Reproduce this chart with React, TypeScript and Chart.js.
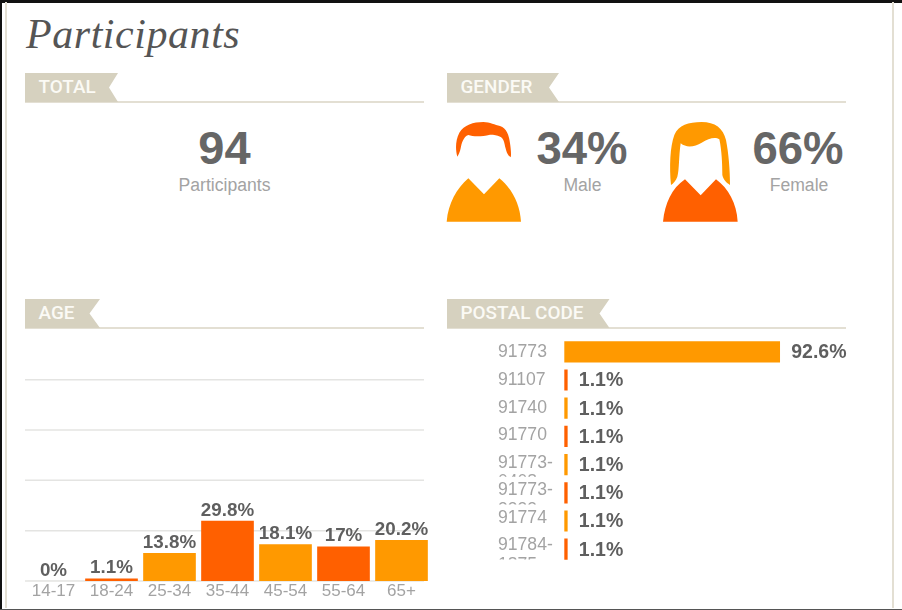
import React, { useEffect, useRef } from "react";
import { Chart, registerables } from "chart.js";

Chart.register(...registerables);

const ageCategories = ["14-17", "18-24", "25-34", "35-44", "45-54", "55-64", "65+"];
const ageValues = [0, 1.1, 13.8, 29.8, 18.1, 17, 20.2];
const ageGrid = [0, 25, 50, 75, 100];
const postalCodes = ["91773", "91107", "91740", "91770", "91773-0408", "91773-3333", "91774", "91784-1875"];
const postalValues = [92.6, 1.1, 1.1, 1.1, 1.1, 1.1, 1.1, 1.1];
const ageColors = ["#e4e4e2", "#ff6000", "#ff9900", "#ff6000", "#ff9900", "#ff6000", "#ff9900"];
const postalColors = ["#ff9900", "#ff6000", "#ff9900", "#ff6000", "#ff9900", "#ff6000", "#ff9900", "#ff6000"];

const SANS = '"Liberation Sans", Arial, sans-serif';
const LABEL = "#5f5f5f";
const MUTED = "#a3a3a3";

const agePlugin = {
  id: "agePlugin",
  beforeDatasetsDraw(chart: any) {
    const { ctx } = chart;
    const y = chart.scales.y;
    ctx.save();
    ctx.strokeStyle = "#e4e4e2";
    ctx.lineWidth = 1.5;
    ageGrid.forEach((v) => {
      const py = y.getPixelForValue(v);
      ctx.beginPath();
      ctx.moveTo(25, py);
      ctx.lineTo(424, py);
      ctx.stroke();
    });
    ctx.restore();
  },
  afterDatasetsDraw(chart: any) {
    const { ctx } = chart;
    const meta = chart.getDatasetMeta(0);
    ctx.save();
    ctx.font = `bold 18.8px ${SANS}`;
    ctx.fillStyle = LABEL;
    ctx.textAlign = "center";
    ctx.textBaseline = "middle";
    meta.data.forEach((bar: any, i: number) => {
      ctx.fillText(`${ageValues[i]}%`, bar.x, bar.y - 10.5);
    });
    ctx.restore();
  },
};

const postalPlugin = {
  id: "postalPlugin",
  afterDatasetsDraw(chart: any) {
    const { ctx } = chart;
    const meta = chart.getDatasetMeta(0);
    const yScale = chart.scales.y;
    const base = yScale.getPixelForTick(0);
    ctx.save();
    ctx.textBaseline = "middle";
    ctx.textAlign = "left";
    meta.data.forEach((bar: any, i: number) => {
      ctx.font = `bold 19.5px ${SANS}`;
      ctx.fillStyle = LABEL;
      ctx.fillText(`${postalValues[i]}%`, bar.x + 11.5, bar.y + 1);

      const rowY = base + (yScale.getPixelForTick(i) - base) * 0.978 + 0.7;
      const parts = postalCodes[i].split("-");
      ctx.font = `17.6px ${SANS}`;
      ctx.fillStyle = MUTED;
      if (parts.length === 1) {
        ctx.fillText(parts[0], 58, rowY);
      } else {
        ctx.fillText(parts[0] + "-", 58, rowY);
        ctx.save();
        ctx.beginPath();
        ctx.rect(50, rowY, 80, 14);
        ctx.clip();
        ctx.fillText(parts[1], 58, rowY + 19.5);
        ctx.restore();
      }
    });
    ctx.restore();
  },
};

const Tab = ({ x, y, w, notch, line, text }: { x: number; y: number; w: number; notch: number; line: number; text: string }) => (
  <>
    <div style={{ position: "absolute", left: x, top: y + 28, width: line - x, height: 1.5, background: "#e3dfd3" }} />
    <svg style={{ position: "absolute", left: x, top: y }} width={w} height={29}>
      <path d={`M0 0H${w}L${notch} 14.5L${w} 29H0Z`} fill="#d6d1bf" />
    </svg>
    <div
      style={{
        position: "absolute",
        left: x + 13.5,
        top: y,
        height: 27,
        color: "#fbfaf5",
        font: `500 18.9px/27px Roboto, ${SANS}`,
        whiteSpace: "nowrap",
      }}
    >
      {text}
    </div>
  </>
);

const Text = ({ cx, cy, size, bold, color, text }: { cx: number; cy: number; size: number; bold?: boolean; color: string; text: string }) => (
  <div
    style={{
      position: "absolute",
      left: cx - 100,
      width: 200,
      top: cy - 40,
      height: 80,
      textAlign: "center",
      font: `${bold ? "bold " : ""}${size}px/80px ${SANS}`,
      color,
    }}
  >
    {text}
  </div>
);

export default function App() {
  const ageRef = useRef<HTMLCanvasElement>(null);
  const postalRef = useRef<HTMLCanvasElement>(null);

  useEffect(() => {
    const age = new Chart(ageRef.current!, {
      type: "bar",
      data: {
        labels: ageCategories,
        datasets: [{ data: ageValues, backgroundColor: ageColors, barThickness: 52 }],
      },
      options: {
        animation: false,
        responsive: false,
        layout: { padding: { left: 24.5, right: 9.5, top: 49.7, bottom: 8.6 } },
        plugins: { legend: { display: false }, tooltip: { enabled: false } },
        scales: {
          x: {
            grid: { display: false, drawTicks: false },
            border: { display: false },
            ticks: { color: MUTED, font: { size: 17, family: SANS }, padding: 0, autoSkip: false, maxRotation: 0 },
          },
          y: { display: false, min: 0, max: 100 },
        },
      },
      plugins: [agePlugin],
    } as any);

    const postal = new Chart(postalRef.current!, {
      type: "bar",
      data: {
        labels: postalCodes,
        datasets: [{ data: postalValues, backgroundColor: postalColors, barThickness: 20.5, minBarLength: 3 }],
      },
      options: {
        indexAxis: "y",
        animation: false,
        responsive: false,
        layout: { padding: { left: 124.3, right: 105.1, top: 7.7, bottom: 6.7 } },
        plugins: { legend: { display: false }, tooltip: { enabled: false } },
        scales: {
          x: { display: false, min: 0, max: 100 },
          y: { display: false },
        },
      },
      plugins: [postalPlugin],
    } as any);

    return () => {
      age.destroy();
      postal.destroy();
    };
  }, []);

  return (
    <div style={{ position: "fixed", left: 0, top: 0, width: 902, height: 610, background: "#fff", overflow: "hidden", filter: "blur(0.35px)" }}>
      <div style={{ position: "absolute", left: 0, top: 0, width: 902, height: 2.5, background: "#111" }} />
      <div style={{ position: "absolute", left: 0, top: 0, width: 1.5, height: 610, background: "#111" }} />
      <div style={{ position: "absolute", left: 5, top: 2, width: 2, height: 606, background: "#e3dfd3" }} />
      <div style={{ position: "absolute", left: 892, top: 2, width: 2, height: 606, background: "#e3dfd3" }} />
      <div style={{ position: "absolute", left: 0, top: 608.5, width: 902, height: 1.5, background: "#555" }} />

      <div
        style={{
          position: "absolute",
          left: 26,
          top: 8.5,
          font: 'italic 42px/50px "Liberation Serif", serif',
          letterSpacing: 0.55,
          color: "#555",
          whiteSpace: "nowrap",
        }}
      >
        Participants
      </div>

      <Tab x={25} y={73} w={93} notch={84} line={424} text="TOTAL" />
      <Tab x={447} y={73} w={112} notch={102} line={846} text="GENDER" />
      <Tab x={25} y={299} w={75} notch={64.5} line={424} text="AGE" />
      <Tab x={447} y={299} w={162.5} notch={152.5} line={846} text="POSTAL CODE" />

      <Text cx={224.5} cy={147.5} size={47} bold color="#666" text="94" />
      <Text cx={224.5} cy={184.5} size={17.6} color={MUTED} text="Participants" />
      <Text cx={582} cy={148.5} size={45.5} bold color="#666" text="34%" />
      <Text cx={582.5} cy={184.5} size={17.6} color={MUTED} text="Male" />
      <Text cx={798} cy={148.5} size={45.5} bold color="#666" text="66%" />
      <Text cx={799} cy={184.5} size={17.6} color={MUTED} text="Female" />

      <svg style={{ position: "absolute", left: 440, top: 60 }} width={462} height={180} viewBox="0 0 1386 540">
        <path
          d="M52 290C46 270 46 240 58 218C72 195 100 186 130 186C150 186 165 195 180 198C200 205 207 225 210 250C213 270 214 285 212 292C200 285 197 265 192 245C188 230 175 224 150 224C125 230 100 230 85 225C70 230 65 250 62 265C60 275 56 285 52 290Z"
          fill="#ff6000"
        />
        <path d="M20 485C25 430 50 385 85 355L132 403L178 355C215 385 240 430 243 485Z" fill="#ff9900" />
        <path
          d="M693 375C688 320 690 260 703 225C716 195 745 186 785 186C825 186 850 205 858 240C866 280 870 330 870 375C860 368 850 360 847 345C847 310 845 270 838 238C825 230 805 236 785 248C765 260 740 265 722 250C716 290 718 330 712 350C708 362 700 370 693 375Z"
          fill="#ff9900"
        />
        <path
          d="M669 485C675 430 695 385 735 358L782 406L828 358C865 385 890 430 893 485Z"
          fill="#ff6000"
          stroke="#fff"
          strokeWidth={3}
          paintOrder="stroke"
        />
      </svg>

      <canvas ref={ageRef} width={440} height={280} style={{ position: "absolute", left: 0, top: 330, width: 440, height: 280 }} />
      <canvas ref={postalRef} width={462} height={240} style={{ position: "absolute", left: 440, top: 330, width: 462, height: 240 }} />
    </div>
  );
}
